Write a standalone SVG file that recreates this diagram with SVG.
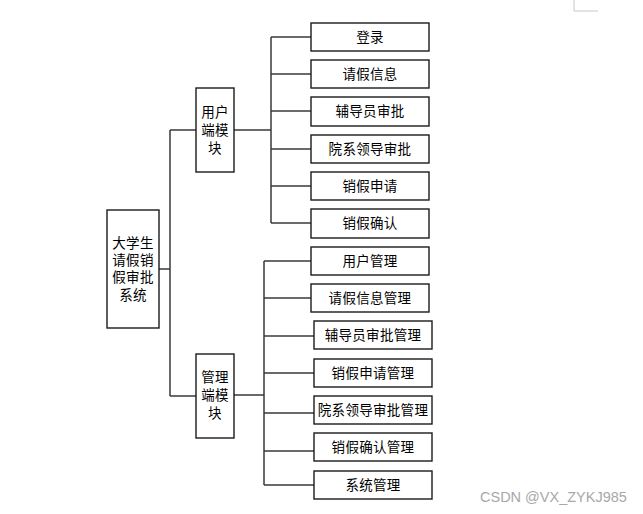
<svg xmlns="http://www.w3.org/2000/svg" width="643" height="514" viewBox="0 0 643 514">
<style>
.box{fill:#fff;stroke:#1a1a1a;stroke-width:1.4}
.t{font-family:"Liberation Sans","Noto Sans CJK SC",sans-serif;font-size:13.5px;fill:#000;text-anchor:middle;dominant-baseline:central;letter-spacing:0.3px}
.c{fill:none;stroke:#3a3a3a;stroke-width:1.5}
</style>
<rect width="643" height="514" fill="#fff"/>
<path d="M574 0V11H598" fill="none" stroke="#c8c8c8" stroke-width="1"/>
<g id="connectors" class="c">
<path d="M159 269H170M170 130V396M170 130H196M170 396H196"/>
<path d="M234 130H271M271 37V223M271 37H311M271 74H311M271 111H311M271 149H311M271 186H311M271 223H311"/>
<path d="M234 395H264M264 261V485M264 261H311M264 298H311M264 336H314M264 373H314M264 413H314M264 451H314M264 485H314"/>
</g>
<g id="root"><rect class="box" x="107" y="210" width="52" height="118"/>
<text class="t" x="133" y="243">大学生</text><text class="t" x="133" y="260">请假销</text><text class="t" x="133" y="277">假审批</text><text class="t" x="133" y="295">系统</text></g>
<g id="user"><rect class="box" x="196" y="88" width="38" height="84"/>
<text class="t" x="215" y="112">用户</text><text class="t" x="215" y="130">端模</text><text class="t" x="215" y="148">块</text></g>
<g id="admin"><rect class="box" x="196" y="354" width="38" height="84"/>
<text class="t" x="215" y="377">管理</text><text class="t" x="215" y="395">端模</text><text class="t" x="215" y="413">块</text></g>
<g id="u1"><rect class="box" x="311" y="23" width="118" height="28"/><text class="t" x="370" y="37">登录</text></g>
<g id="u2"><rect class="box" x="311" y="60" width="118" height="28"/><text class="t" x="370" y="74">请假信息</text></g>
<g id="u3"><rect class="box" x="311" y="97" width="118" height="29"/><text class="t" x="370" y="111">辅导员审批</text></g>
<g id="u4"><rect class="box" x="311" y="135" width="118" height="28"/><text class="t" x="370" y="149">院系领导审批</text></g>
<g id="u5"><rect class="box" x="311" y="172" width="118" height="28"/><text class="t" x="370" y="186">销假申请</text></g>
<g id="u6"><rect class="box" x="311" y="209" width="118" height="29"/><text class="t" x="370" y="223">销假确认</text></g>
<g id="a1"><rect class="box" x="311" y="247" width="118" height="28"/><text class="t" x="370" y="261">用户管理</text></g>
<g id="a2"><rect class="box" x="311" y="284" width="118" height="28"/><text class="t" x="370" y="298">请假信息管理</text></g>
<g id="a3"><rect class="box" x="314" y="321" width="118" height="28"/><text class="t" x="373" y="335">辅导员审批管理</text></g>
<g id="a4"><rect class="box" x="314" y="359" width="118" height="28"/><text class="t" x="373" y="373">销假申请管理</text></g>
<g id="a5"><rect class="box" x="314" y="396" width="118" height="28"/><text class="t" x="373" y="410">院系领导审批管理</text></g>
<g id="a6"><rect class="box" x="314" y="433" width="118" height="28"/><text class="t" x="373" y="447">销假确认管理</text></g>
<g id="a7"><rect class="box" x="314" y="471" width="118" height="28"/><text class="t" x="373" y="485">系统管理</text></g>
<text x="480" y="502" font-family="Liberation Sans,sans-serif" font-size="14.5" fill="#a8a8a8">CSDN @VX_ZYKJ985</text>
</svg>
